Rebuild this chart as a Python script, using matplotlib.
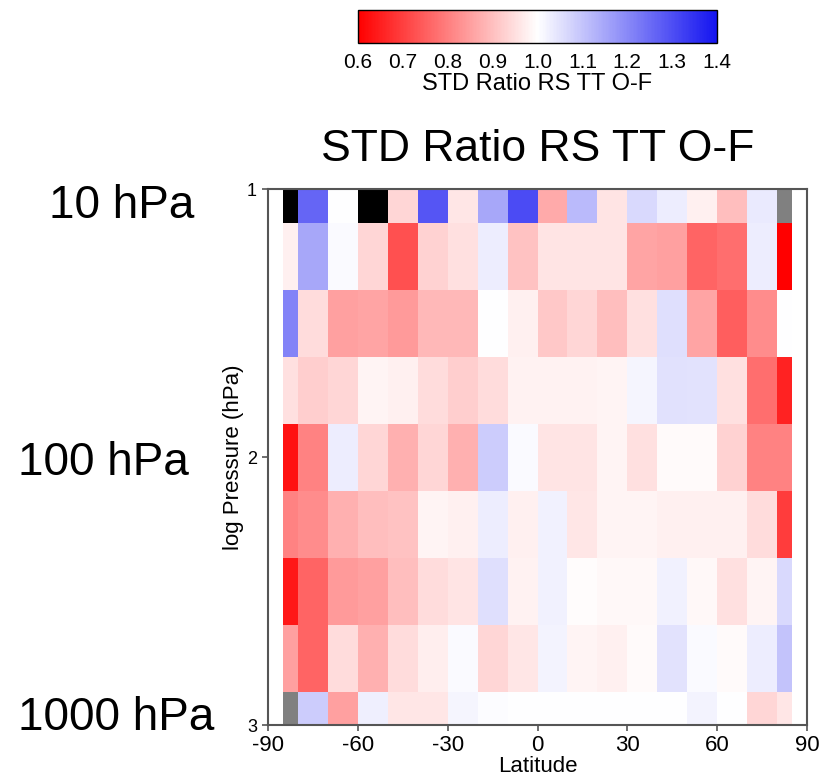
import numpy as np
import matplotlib
matplotlib.use("Agg")
import matplotlib.pyplot as plt
from matplotlib.colors import LinearSegmentedColormap

plt.rcParams['font.family'] = ['Liberation Sans', 'DejaVu Sans']

# cell edges: latitude (deg) and log10 pressure (hPa)
lat_edges = [-85, -80, -70, -60, -50, -40, -30, -20, -10, 0,
             10, 20, 30, 40, 50, 60, 70, 80, 85]
logp_edges = [1.0, 1.125, 1.375, 1.625, 1.875, 2.125, 2.375, 2.625, 2.875, 3.0]

nan = np.nan
# STD ratio, rows top (10 hPa) to bottom (1000 hPa); 1.5 = above scale (black), nan = no data (grey)
row_10 = [1.5, 1.26, 1.0, 1.5, 0.937, 1.29, 0.961, 1.149, 1.306, 0.867, 1.118, 0.958, 1.063, 1.031, 0.976, 0.898, 1.036, nan]
row_18 = [0.976, 1.149, 1.008, 0.937, 0.725, 0.929, 0.953, 1.031, 0.906, 0.958, 0.958, 0.958, 0.859, 0.851, 0.757, 0.773, 1.031, 0.6]
row_32 = [1.212, 0.945, 0.851, 0.859, 0.843, 0.89, 0.89, 1.0, 0.976, 0.914, 0.937, 0.898, 0.953, 1.055, 0.859, 0.749, 0.82, 1.0]
row_56 = [0.953, 0.922, 0.937, 0.984, 0.976, 0.945, 0.922, 0.945, 0.98, 0.98, 0.98, 0.984, 1.016, 1.052, 1.047, 0.953, 0.773, 0.655]
row_100 = [0.631, 0.804, 1.031, 0.937, 0.875, 0.937, 0.875, 1.086, 1.008, 0.958, 0.958, 0.984, 0.953, 0.992, 0.992, 0.929, 0.804, 0.804]
row_178 = [0.804, 0.82, 0.875, 0.898, 0.906, 0.984, 0.976, 1.031, 0.976, 1.024, 0.961, 0.984, 0.984, 0.976, 0.976, 0.976, 0.945, 0.694]
row_316 = [0.639, 0.757, 0.843, 0.851, 0.898, 0.945, 0.958, 1.055, 0.98, 1.024, 0.995, 0.989, 0.989, 1.024, 0.989, 0.953, 0.984, 1.063]
row_562 = [0.851, 0.757, 0.945, 0.875, 0.945, 0.972, 1.008, 0.937, 0.961, 1.02, 0.984, 0.976, 0.992, 1.047, 1.008, 0.992, 1.031, 1.102]
row_1000 = [nan, 1.086, 0.851, 1.027, 0.961, 0.961, 1.016, 1.004, 1.0, 1.0, 1.0, 1.0, 1.0, 1.0, 1.02, 1.0, 0.937, 0.961]

ratio = np.array([row_10, row_18, row_32, row_56, row_100, row_178, row_316, row_562, row_1000])
ratio = np.ma.masked_invalid(ratio)

cb_ticks = [0.6, 0.7, 0.8, 0.9, 1.0, 1.1, 1.2, 1.3, 1.4]
cb_labels = ['0.6', '0.7', '0.8', '0.9', '1.0', '1.1', '1.2', '1.3', '1.4']
side_labels = ['10 hPa', '100 hPa', '1000 hPa']

W, H = 830, 776
fig = plt.figure(figsize=(W / 100, H / 100), dpi=100)

cmap = LinearSegmentedColormap.from_list('rwb', ['#ff0000', '#ffffff', '#1414f0'], N=256)
cmap.set_over('black')
cmap.set_bad('#808080')

ax = fig.add_axes([268 / W, 1 - 725 / H, 539 / W, 536 / H])
mesh = ax.pcolormesh(lat_edges, logp_edges, ratio, cmap=cmap, vmin=0.6, vmax=1.4)
ax.set_xlim(-90, 90)
ax.set_ylim(3, 1)
ax.set_xticks([-90, -60, -30, 0, 30, 60, 90])
ax.set_yticks([1, 2, 3])
ax.set_xticklabels(['-90', '-60', '-30', '0', '30', '60', '90'])
ax.set_yticklabels(['1', '2', '3'])
ax.tick_params(axis='x', labelsize=16, length=4, width=1.2, pad=3, color='#555555')
ax.tick_params(axis='y', labelsize=13, length=4, width=1.2, pad=4, color='#555555')
for s in ax.spines.values():
    s.set_color('#555555')
    s.set_linewidth(1.5)
ax.set_xlabel('Latitude', fontsize=16, labelpad=0)
ax.set_ylabel('log Pressure (hPa)', fontsize=16, labelpad=2)
ax.set_title('STD Ratio RS TT O-F', fontsize=32, pad=20)

# colorbar on top
cax = fig.add_axes([358 / W, 1 - 43 / H, 359 / W, 33 / H])
cb = fig.colorbar(mesh, cax=cax, orientation='horizontal', ticks=cb_ticks)
cb.ax.set_xticklabels(cb_labels)
cb.ax.tick_params(length=0, labelsize=15, pad=7)
cb.outline.set_linewidth(1.0)
cb.outline.set_edgecolor('black')
cb.set_label('STD Ratio RS TT O-F', fontsize=17, labelpad=1)

# pressure level annotations on the left
fig.text(49 / W, 1 - 206 / H, side_labels[0], fontsize=33, ha='left', va='center')
fig.text(18 / W, 1 - 463 / H, side_labels[1], fontsize=33, ha='left', va='center')
fig.text(18 / W, 1 - 718 / H, side_labels[2], fontsize=33, ha='left', va='center')

fig.savefig('out.png', dpi=100)
